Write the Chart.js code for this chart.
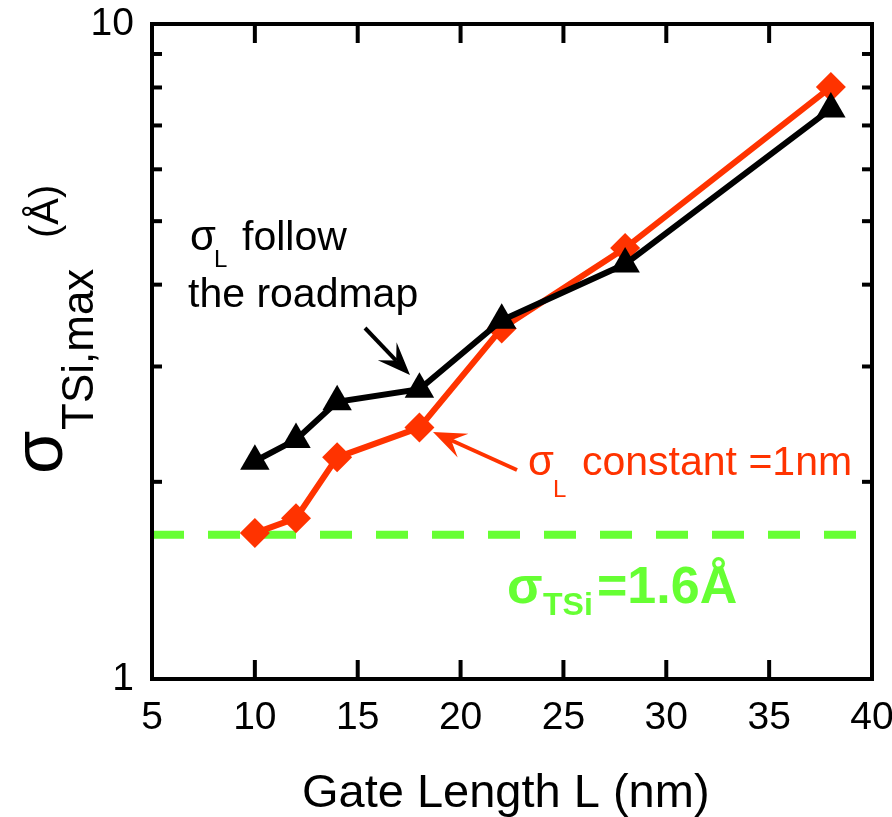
<!DOCTYPE html>
<html>
<head>
<meta charset="utf-8">
<script src="https://cdn.jsdelivr.net/npm/chart.js@4.4.0/dist/chart.umd.min.js"></script>
<style>
  html, body { margin: 0; padding: 0; background: #fff; }
  #wrap { width: 892px; height: 817px; }
</style>
</head>
<body>
<div id="wrap"><canvas id="chart1"></canvas></div>
<script>
"use strict";

// data
var gateLength = [10, 12, 14, 18, 22, 28, 38];
var sigmaRoadmap = [2.15, 2.32, 2.65, 2.77, 3.53, 4.30, 7.42];
var sigmaConstant = [1.67, 1.76, 2.18, 2.42, 3.43, 4.55, 8.01];
var limitX = [5, 40];
var limitY = [1.66, 1.66];
var xTicks = [5, 10, 15, 20, 25, 30, 35, 40];
var yTicks = [1, 2, 3, 4, 5, 6, 7, 8, 9, 10];
var yTickLabels = ["1", "", "", "", "", "", "", "", "", "10"];

var FONT = "'Liberation Sans', Arial, Helvetica, sans-serif";
var RED = "#ff3300";
var GREEN = "#66ff33";

function points(xs, ys) {
  return xs.map(function(x, i) {
    return { x: x, y: ys[i] };
  });
}

function seg(ctx, x1, y1, x2, y2) {
  ctx.beginPath();
  ctx.moveTo(x1, y1);
  ctx.lineTo(x2, y2);
  ctx.stroke();
}

function arrow(ctx, x1, y1, x2, y2, color) {
  var dx = x2 - x1, dy = y2 - y1;
  var len = Math.sqrt(dx * dx + dy * dy);
  var ux = dx / len, uy = dy / len;
  var nx = -uy, ny = ux;
  var back = 33, notch = 20, half = 13;
  ctx.strokeStyle = color;
  ctx.fillStyle = color;
  ctx.lineWidth = 4;
  seg(ctx, x1, y1, x2 - ux * notch, y2 - uy * notch);
  ctx.beginPath();
  ctx.moveTo(x2, y2);
  ctx.lineTo(x2 - ux * back + nx * half, y2 - uy * back + ny * half);
  ctx.lineTo(x2 - ux * notch, y2 - uy * notch);
  ctx.lineTo(x2 - ux * back - nx * half, y2 - uy * back - ny * half);
  ctx.closePath();
  ctx.fill();
}

function text(ctx, str, x, y, size, color, bold) {
  ctx.font = (bold ? "bold " : "") + size + "px " + FONT;
  ctx.fillStyle = color;
  ctx.textAlign = "left";
  ctx.textBaseline = "alphabetic";
  ctx.fillText(str, x, y);
}

function vtext(ctx, str, bx, sy, size) {
  ctx.save();
  ctx.translate(bx, sy);
  ctx.rotate(-Math.PI / 2);
  text(ctx, str, 0, 0, size, "#000", false);
  ctx.restore();
}

// box, inward ticks, titles and notes
var decorations = {
  id: "decorations",
  afterDraw: function(chart) {
    var ctx = chart.ctx;
    var a = chart.chartArea;
    var xs = chart.scales.x, ys = chart.scales.y;
    ctx.save();
    ctx.strokeStyle = "#000";
    ctx.lineWidth = 4;
    xTicks.forEach(function(v) {
      if (v === xs.min || v === xs.max) return;
      var p = xs.getPixelForValue(v);
      seg(ctx, p, a.bottom, p, a.bottom - 19);
      seg(ctx, p, a.top, p, a.top + 19);
    });
    yTicks.forEach(function(v) {
      if (v === ys.min || v === ys.max) return;
      var p = ys.getPixelForValue(v);
      seg(ctx, a.left, p, a.left + 10, p);
      seg(ctx, a.right, p, a.right - 10, p);
    });
    ctx.strokeRect(a.left, a.top, a.right - a.left, a.bottom - a.top);

    // axis titles
    text(ctx, "Gate Length L (nm)", 302, 807, 47, "#000", false);
    vtext(ctx, "\u03c3", 62, 474, 70);
    vtext(ctx, "TSi,max", 93, 430, 44);
    vtext(ctx, "(\u00c5)", 58, 238, 40);

    // notes
    text(ctx, "\u03c3", 190, 250, 42, "#000", false);
    text(ctx, "L", 214, 267, 24, "#000", false);
    text(ctx, "follow", 242, 250, 41, "#000", false);
    text(ctx, "the roadmap", 188, 307, 41, "#000", false);
    arrow(ctx, 365, 328, 410, 375, "#000");

    text(ctx, "\u03c3", 528, 475, 42, RED, false);
    text(ctx, "L", 553, 497, 24, RED, false);
    text(ctx, "constant =1nm", 582, 475, 41, RED, false);
    arrow(ctx, 517, 470, 433, 432, RED);

    text(ctx, "\u03c3", 507, 603, 52, GREEN, true);
    text(ctx, "TSi", 543, 615, 32, GREEN, true);
    text(ctx, "=1.6\u00c5", 597, 603, 52, GREEN, true);
    ctx.restore();
  }
};

function chart1() {
  var ctx = document.getElementById("chart1");
  var myChart = new Chart(ctx, {
    type: "line",
    data: {
      datasets: [
        {
          label: "roadmap",
          data: points(gateLength, sigmaRoadmap),
          borderColor: "#000",
          backgroundColor: "#000",
          borderWidth: 6,
          pointStyle: "triangle",
          pointRadius: 17,
          pointBorderWidth: 0,
          order: 0
        },
        {
          label: "constant",
          data: points(gateLength, sigmaConstant),
          borderColor: RED,
          backgroundColor: RED,
          borderWidth: 6,
          pointStyle: "rectRot",
          pointRadius: 15,
          pointBorderWidth: 0,
          order: 1
        },
        {
          label: "limit",
          data: points(limitX, limitY),
          borderColor: GREEN,
          borderWidth: 8,
          borderDash: [32, 24],
          pointRadius: 0,
          order: 2
        }
      ]
    },
    options: {
      responsive: true,
      maintainAspectRatio: false,
      animation: false,
      layout: {
        padding: { left: 0, top: 24, right: 20, bottom: 0 }
      },
      plugins: {
        legend: { display: false },
        tooltip: { enabled: false }
      },
      scales: {
        x: {
          type: "linear",
          min: 5,
          max: 40,
          grid: { display: false, drawTicks: false },
          border: { display: false },
          afterBuildTicks: function(scale) {
            scale.ticks = xTicks.map(function(v) { return { value: v }; });
          },
          afterFit: function(scale) {
            scale.height = 138;
            scale.paddingLeft = 0;
            scale.paddingRight = 0;
          },
          ticks: {
            maxRotation: 0,
            autoSkip: false,
            padding: 16,
            color: "#000",
            font: { family: FONT, size: 39 }
          }
        },
        y: {
          type: "logarithmic",
          min: 1,
          max: 10,
          grid: { display: false, drawTicks: false },
          border: { display: false },
          afterBuildTicks: function(scale) {
            scale.ticks = yTicks.map(function(v) { return { value: v }; });
          },
          afterFit: function(scale) {
            scale.width = 152;
            scale.paddingTop = 0;
            scale.paddingBottom = 0;
          },
          ticks: {
            autoSkip: false,
            padding: 18,
            color: "#000",
            font: { family: FONT, size: 39 },
            callback: function(val, index) {
              return yTickLabels[index];
            }
          }
        }
      }
    },
    plugins: [decorations]
  });
}

chart1();
</script>
</body>
</html>
